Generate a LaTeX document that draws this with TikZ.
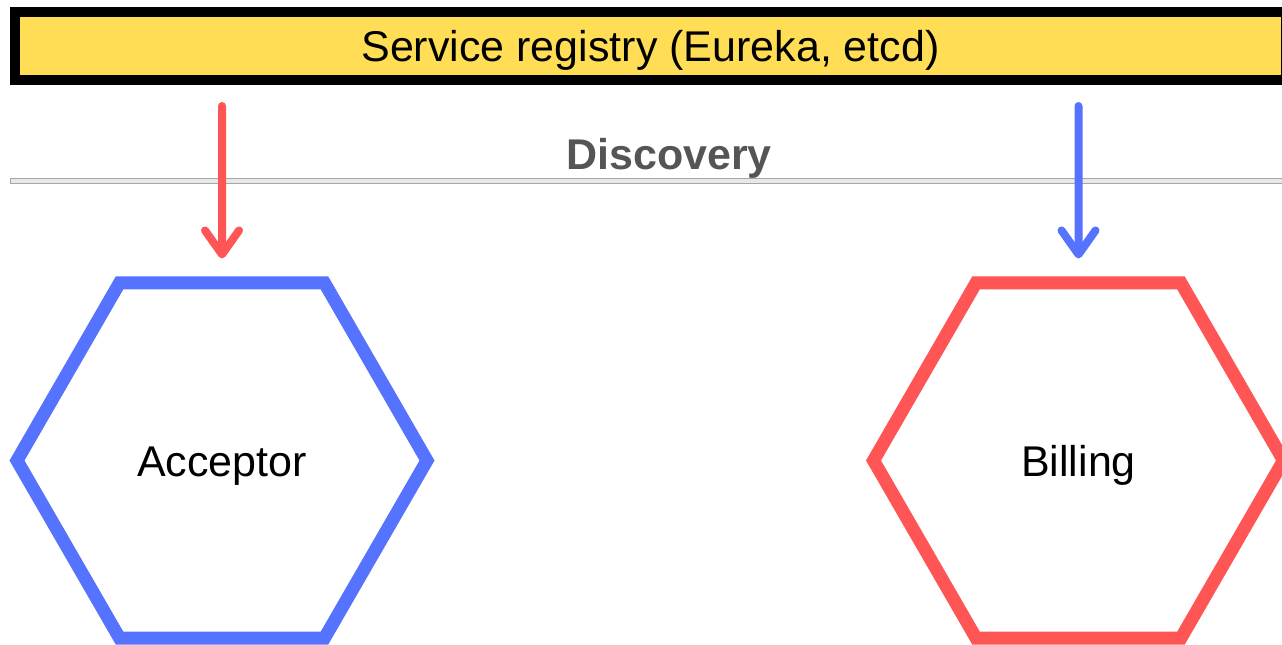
\documentclass[tikz,border=0pt]{standalone}
\usepackage{fontspec}
\setmainfont{Liberation Sans}
\usetikzlibrary{shapes.geometric,arrows.meta}
\definecolor{regyellow}{RGB}{255,221,85}
\definecolor{svcblue}{RGB}{85,115,255}
\definecolor{svcred}{RGB}{255,85,85}
\definecolor{labelgray}{RGB}{85,85,85}
\begin{document}
\begin{tikzpicture}[x=1pt,y=-1pt,
  bigtext/.style={font=\fontsize{43}{50}\selectfont, text height=32pt, text depth=1pt},
  registry/.style={draw=black, line width=10pt, fill=regyellow, inner sep=0pt,
    minimum width=1271pt, minimum height=68pt, bigtext},
  service/.style={regular polygon, regular polygon sides=6, minimum size=410pt,
    line width=13pt, inner sep=0pt, bigtext},
  lookup/.style={line width=8pt, line cap=round,
    -{Straight Barb[length=24pt,width=34pt,round]}},
  divider/.style={fill=black!9, draw=black!35, line width=1pt}
]
\useasboundingbox (0,0) rectangle (1282,645);

% registry bar across the top
\node[registry, anchor=north west] (reg) at (10,7) {Service registry (Eureka, etcd)};

% divider with its heading
\draw[divider] (10,178) rectangle (1300,183);
\node[font=\fontsize{43}{50}\selectfont\bfseries, text=labelgray, anchor=base] (disc) at (669,169) {Discovery};

% the two services
\node[service, draw=svcblue] (acc) at (222,460.5) {Acceptor};
\node[service, draw=svcred] (bil) at (1078.5,460.5) {Billing};

% lookups from the registry
\draw[lookup, draw=svcred, shorten <=21pt, shorten >=18pt] (reg.south -| acc.center) -- (acc.north);
\draw[lookup, draw=svcblue, shorten <=21pt, shorten >=18pt] (reg.south -| bil.center) -- (bil.north);
\end{tikzpicture}
\end{document}
